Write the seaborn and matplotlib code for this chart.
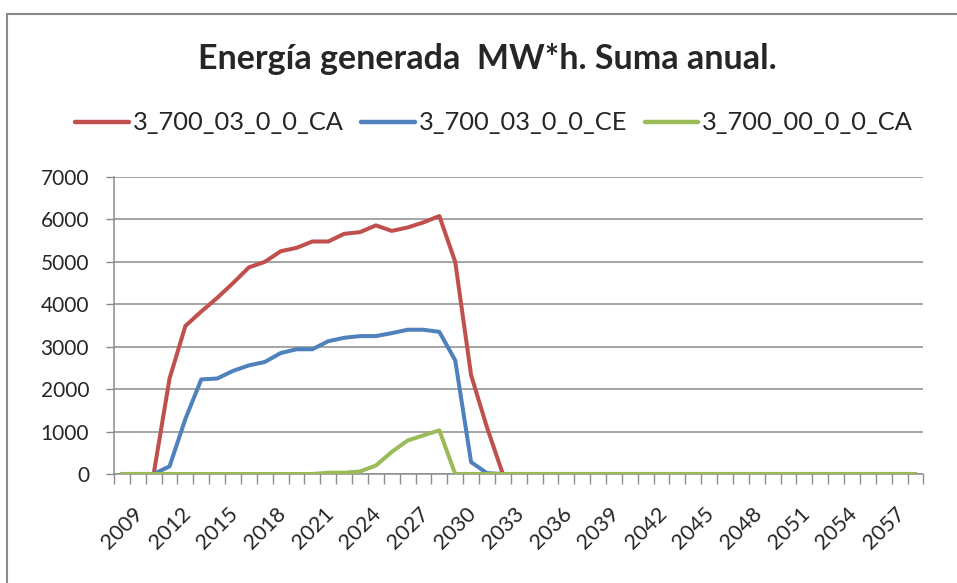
import matplotlib
matplotlib.use("Agg")
import numpy as np
import pandas as pd
import seaborn as sns
import matplotlib.pyplot as plt
import matplotlib.transforms as mtransforms
from matplotlib.lines import Line2D

# ---- data -------------------------------------------------------------
years = list(range(2009, 2060))
series_names = ["3_700_03_0_0_CA", "3_700_03_0_0_CE", "3_700_00_0_0_CA"]

ca_03 = [0, 0, 0, 2250, 3490, 3830, 4150, 4500, 4870, 5000, 5250, 5330, 5480,
         5480, 5660, 5700, 5860, 5730, 5810, 5930, 6080, 5000, 2330, 1100, 0] + [0] * 26
ce_03 = [0, 0, 0, 180, 1300, 2230, 2250, 2430, 2560, 2640, 2850, 2940, 2940,
         3130, 3210, 3250, 3250, 3320, 3400, 3400, 3350, 2680, 280, 20, 0] + [0] * 26
ca_00 = [0] * 13 + [30, 30, 60, 200, 520, 790, 910, 1030, 0] + [0] * 29

yticks = [0, 1000, 2000, 3000, 4000, 5000, 6000, 7000]
xtick_years = list(range(2009, 2058, 3))

colors = ["#C0504D", "#4F81BD", "#9BBB59"]

# ---- long-form table -----------------------------------------------------
idx = np.arange(len(years))
df = pd.DataFrame({
    "pos": np.concatenate([idx, idx, idx]),
    "valor": ca_03 + ce_03 + ca_00,
    "serie": np.repeat(series_names, len(years)),
})

# ---- styling ---------------------------------------------------------------
sns.set_style("white")
plt.rcParams["font.family"] = ["Lato", "DejaVu Sans"]
grid_col = "#8c8c8c"

W, H = 957, 583
fig = plt.figure(figsize=(W / 100, H / 100), dpi=100)

# plot area in pixel units
left, right, top, bottom = 114, 923.4, 177, 474
ax = fig.add_axes([left / W, 1 - bottom / H, (right - left) / W, (bottom - top) / H])

sns.lineplot(data=df, x="pos", y="valor", hue="serie", hue_order=series_names,
             palette=colors, linewidth=2.9, ax=ax, legend=True, zorder=3)

ax.set_xlim(-0.5, len(years) - 0.5)
ax.set_ylim(0, 7000)
ax.set_xlabel("")
ax.set_ylabel("")

# y axis
ax.set_yticks(yticks)
ax.set_yticklabels([str(v) for v in yticks], fontsize=15)
ax.yaxis.grid(True, color=grid_col, linewidth=1.1)
ax.tick_params(axis="y", direction="out", length=6, width=1.0, color=grid_col,
               pad=12, left=True)

# x axis: category boundaries as tick marks, labels at category centres
ax.set_xticks([years.index(y) for y in xtick_years])
ax.set_xticklabels([str(y) for y in xtick_years], fontsize=15.5, rotation=45,
                   ha="right", va="top", rotation_mode="anchor")
ax.tick_params(axis="x", which="major", length=0, pad=0)
ax.set_xticks(np.arange(-0.5, len(years), 1.0), minor=True)
ax.tick_params(axis="x", which="minor", direction="out", length=7, width=1.0,
               color=grid_col, bottom=True)
shift = mtransforms.ScaledTranslation(11 / 100, -30 / 100, fig.dpi_scale_trans)
for lab in ax.get_xticklabels():
    lab.set_transform(lab.get_transform() + shift)

for s in ["top", "right"]:
    ax.spines[s].set_visible(False)
for s in ["left", "bottom"]:
    ax.spines[s].set_color(grid_col)
    ax.spines[s].set_linewidth(1.1)

# legend above the plot
handles, labels = ax.get_legend_handles_labels()
if ax.get_legend() is not None:
    ax.get_legend().remove()
for h in handles:
    h.set_linewidth(3.2)
fig.legend(handles, labels, loc="center", bbox_to_anchor=(494 / W, 1 - 123 / H),
           ncol=3, frameon=False, fontsize=18.3, handlelength=2.1,
           handletextpad=0.15, columnspacing=0.7)

# title
fig.text(487.5 / W, 1 - 59 / H, "Energía generada  MW*h. Suma anual.",
         ha="center", va="center", fontsize=24.5, fontweight="bold")

# outer chart frame (top and left edges)
fig.add_artist(Line2D([7 / W, 7 / W], [0, 1 - 14 / H], transform=fig.transFigure,
                      color="#8a8a8a", linewidth=1.5))
fig.add_artist(Line2D([7 / W, 1], [1 - 14 / H, 1 - 14 / H], transform=fig.transFigure,
                      color="#8a8a8a", linewidth=1.5))

fig.savefig("out.png", dpi=100)
